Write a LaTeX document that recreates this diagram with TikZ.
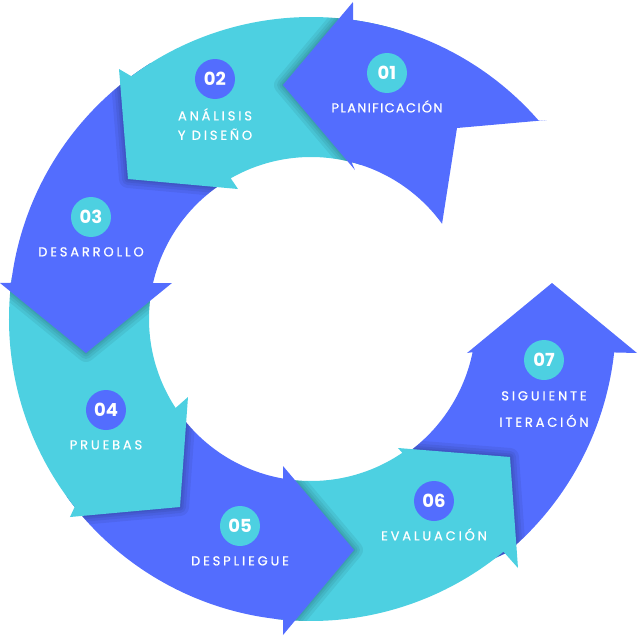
\documentclass[tikz,border=0pt]{standalone}
\usepackage{fontspec}
\setmainfont{Poppins}
\newfontfamily\lblfont[LetterSpace=22, FakeBold=0.8]{Poppins}
\newfontfamily\lbltight[LetterSpace=10, FakeBold=0.8]{Poppins}
\usetikzlibrary{positioning}
\definecolor{ringblue}{HTML}{536DFE}
\definecolor{ringcyan}{HTML}{4DD0E1}
\tikzstyle{shadowline} = [draw=black, opacity=0.06, line join=round]
\tikzstyle{numdot} = [circle, minimum size=40pt, inner sep=0pt, text=white, font=\bfseries\fontsize{18}{18}\selectfont]
\tikzstyle{lbl} = [inner sep=0pt, text=white, text height=9pt, text depth=0pt, font=\lblfont\fontsize{13}{15}\selectfont]
% ring segments (ring centre at the origin)
\newcommand\segPlan{(82:302) arc[start angle=82, end angle=41, radius=302pt] -- (236,199) -- (146,191) -- (36:162) arc[start angle=36, end angle=75.5, radius=162pt] -- (44,149) -- (-28,234) -- (42,317) -- cycle}
\newcommand\segDise{(72:302) arc[start angle=72, end angle=126.5, radius=302pt] -- (-192,250) -- (-183,140) -- (-73,130) -- (119.7:162) arc[start angle=119.7, end angle=72, radius=162pt] -- cycle}
\newcommand\segDesa{(122:302) arc[start angle=122, end angle=173.1, radius=302pt] -- (-311,36) -- (-225,-34) -- (-139,36) -- (167.2:162) arc[start angle=167.2, end angle=122, radius=162pt] -- cycle}
\newcommand\segPrue{(172:302) arc[start angle=172, end angle=218.5, radius=302pt] -- (-241,-198) -- (-131,-188) -- (-123,-78) -- (213.3:162) arc[start angle=213.3, end angle=172, radius=162pt] -- cycle}
\newcommand\segDesp{(216:302) arc[start angle=216, end angle=264.7, radius=302pt] -- (-28,-316) -- (43,-231) -- (-28,-147) -- (260.1:162) arc[start angle=260.1, end angle=216, radius=162pt] -- cycle}
\newcommand\segEval{(263:302) arc[start angle=263, end angle=309.6, radius=302pt] -- (207,-249) -- (199,-138) -- (87,-129) -- (304.3:162) arc[start angle=304.3, end angle=263, radius=162pt] -- cycle}
\newcommand\segSigu{(306:300) -- (310:305) arc[start angle=310, end angle=353.7, radius=305pt] -- (326,-34) -- (241,36) -- (156,-34) -- (348.4:165) arc[start angle=348.4, end angle=306, radius=165pt] -- cycle}

\begin{document}
\begin{tikzpicture}[x=1pt, y=1pt, node distance=10pt]
\useasboundingbox (-311,-319) rectangle (327,319);

% Ring segments, last step first so each head lies over the next tail
\fill[ringblue] \segSigu;
\begin{scope}
  \clip \segSigu;
  \foreach \w in {18,12,7,3} \draw[shadowline, line width=\w pt] \segEval;
\end{scope}
\fill[ringcyan] \segEval;
\begin{scope}
  \clip \segEval;
  \foreach \w in {18,12,7,3} \draw[shadowline, line width=\w pt] \segDesp;
\end{scope}
\fill[ringblue] \segDesp;
\begin{scope}
  \clip \segDesp;
  \foreach \w in {18,12,7,3} \draw[shadowline, line width=\w pt] \segPrue;
\end{scope}
\fill[ringcyan] \segPrue;
\begin{scope}
  \clip \segPrue;
  \foreach \w in {18,12,7,3} \draw[shadowline, line width=\w pt] \segDesa;
\end{scope}
\fill[ringblue] \segDesa;
\begin{scope}
  \clip \segDesa;
  \foreach \w in {18,12,7,3} \draw[shadowline, line width=\w pt] \segDise;
\end{scope}
\fill[ringcyan] \segDise;
\begin{scope}
  \clip \segDise;
  \foreach \w in {18,12,7,3} \draw[shadowline, line width=\w pt] \segPlan;
\end{scope}
\fill[ringblue] \segPlan;

% Step numbers
\node (n01) [numdot, fill=ringcyan] at (76,246) {01};
\node (n02) [numdot, fill=ringblue] at (-96,240) {02};
\node (n03) [numdot, fill=ringcyan] at (-220,102) {03};
\node (n04) [numdot, fill=ringblue] at (-205,-91) {04};
\node (n05) [numdot, fill=ringcyan] at (-71,-207) {05};
\node (n06) [numdot, fill=ringblue] at (123,-182) {06};
\node (n07) [numdot, fill=ringcyan] at (233,-41) {07};

% Step names
\node (t01) [lbl, font=\lbltight\fontsize{13}{15}\selectfont, below=of n01] {PLANIFICACIÓN};
\node (t02) [lbl, below=12pt of n02] {ANÁLISIS};
\node (t02b) [lbl, below=of t02] {Y DISEÑO};
\node (t03) [lbl, below=of n03] {DESARROLLO};
\node (t04) [lbl, below=of n04] {PRUEBAS};
\node (t05) [lbl, below=of n05] {DESPLIEGUE};
\node (t06) [lbl, below=of n06] {EVALUACIÓN};
\node (t07) [lbl, below=11pt of n07] {SIGUIENTE};
\node (t07b) [lbl, below=17pt of t07] {ITERACIÓN};
\end{tikzpicture}
\end{document}
